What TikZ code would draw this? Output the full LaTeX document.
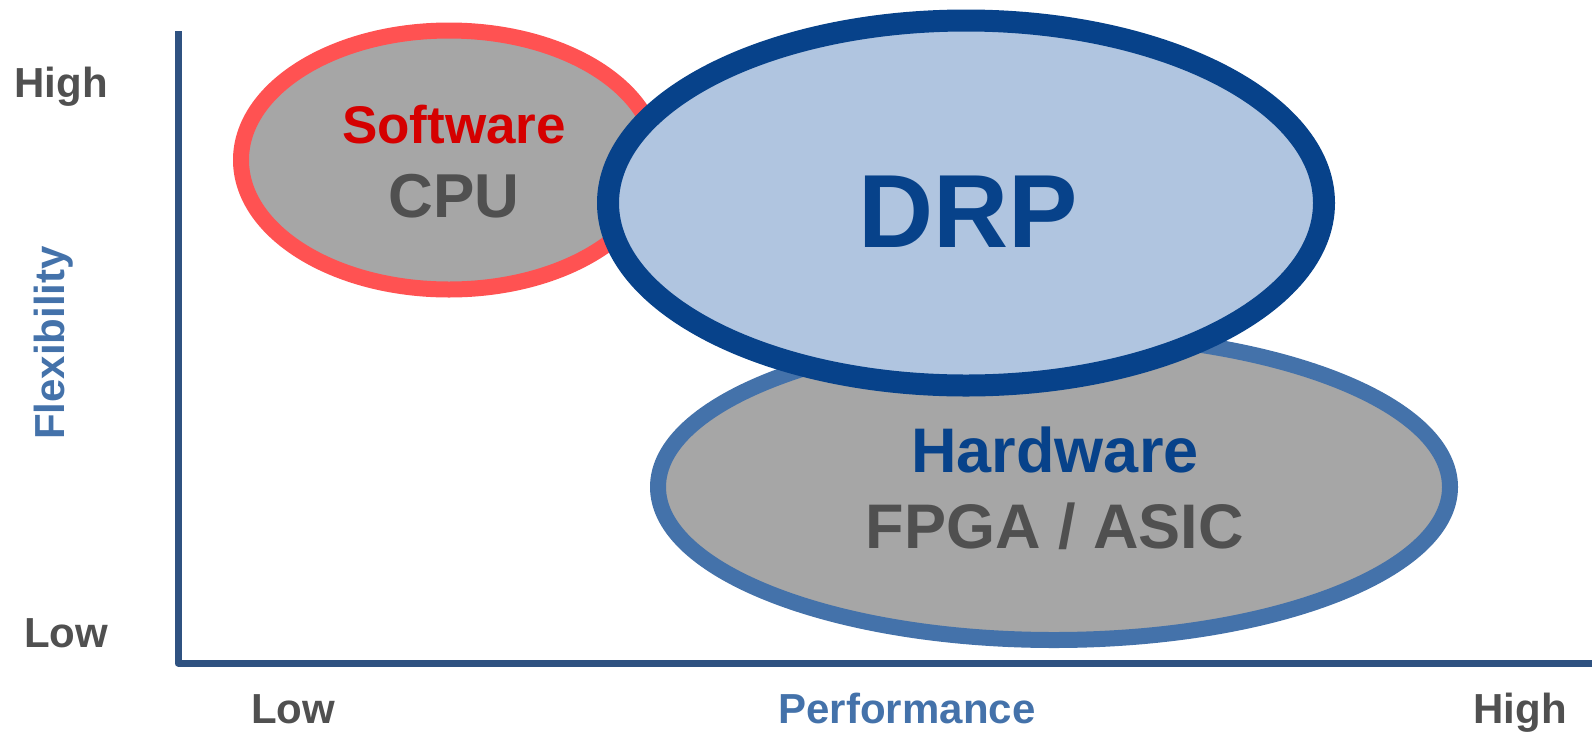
\documentclass[tikz,border=0pt]{standalone}
\usepackage{fontspec}
\setmainfont{Liberation Sans}
\usetikzlibrary{shapes.geometric}

\definecolor{cpuring}{HTML}{FF5252}
\definecolor{swred}{HTML}{D50000}
\definecolor{blobgray}{HTML}{A6A6A6}
\definecolor{txtgray}{HTML}{505050}
\definecolor{drpring}{HTML}{07428A}
\definecolor{drpfill}{HTML}{B0C5E0}
\definecolor{hwring}{HTML}{4472AA}
\definecolor{axiscol}{HTML}{2F5281}
\definecolor{axlabel}{HTML}{4472AA}

\newcommand{\fs}[1]{\fontsize{#1}{#1}\selectfont\bfseries}

\tikzset{
  blob/.style={ellipse, inner sep=0pt, outer sep=0pt},
  ticklabel/.style={anchor=base, inner sep=0pt, text=txtgray, font=\fs{42}},
  axisname/.style={anchor=base, inner sep=0pt, text=axlabel, font=\fs{42}},
  blobtext/.style={anchor=base, inner sep=0pt},
}

\begin{document}
\begin{tikzpicture}[x=1pt, y=-1pt]
\useasboundingbox (0,0) rectangle (1592,732);

% axes
\coordinate (top) at (178,31);
\coordinate (origin) at (178,663);
\coordinate (right) at (1592,663);
\draw[axiscol, line width=7pt, line join=round] (top) -- (origin) -- (right);

% axis labels
\node[ticklabel] (yhigh) at (61,97) {High};
\node[ticklabel] (ylow) at (66,647) {Low};
\node[ticklabel] (xlow) at (293,723) {Low};
\node[ticklabel] (xhigh) at (1520,723) {High};
\node[axisname] (xname) at (907,723) {Performance};
\node[anchor=center, inner sep=0pt, text=axlabel, font=\fs{42}, rotate=90] (yname) at (54,343) {Flexibility};

% software region
\node[blob, draw=cpuring, fill=blobgray, line width=16pt,
      minimum width=416pt, minimum height=259pt] (cpu) at (449,160) {};
\node[blobtext, text=swred, font=\fs{53}] (swlabel) at (454,143) {Software};
\node[blobtext, text=txtgray, font=\fs{62}] (cpulabel) at (454,217) {CPU};

% hardware region
\node[blob, draw=hwring, fill=blobgray, line width=16pt,
      minimum width=792pt, minimum height=306pt] (hw) at (1054,487) {};
\node[blobtext, text=drpring, font=\fs{63}] (hwlabel) at (1055,472) {Hardware};
\node[blobtext, text=txtgray, font=\fs{63}] (fpgalabel) at (1055,548) {FPGA / ASIC};

% DRP region on top
\node[blob, draw=drpring, fill=drpfill, line width=22pt,
      minimum width=716pt, minimum height=365pt] (drp) at (966,203) {};
\node[blobtext, text=drpring, font=\fs{104}] (drplabel) at (968,247) {DRP};

\end{tikzpicture}
\end{document}
